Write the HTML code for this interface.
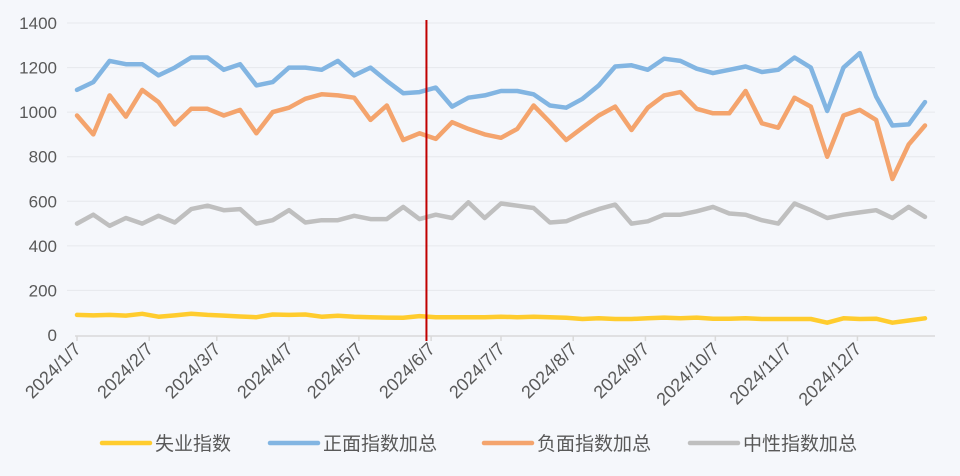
<!DOCTYPE html>
<html><head><meta charset="utf-8">
<style>
html,body{margin:0;padding:0;background:#f5f7fb;}
svg{display:block;font-family:"Liberation Sans","Noto Sans CJK SC",sans-serif;}
</style></head>
<body>
<svg id="chart" width="960" height="476" viewBox="0 0 960 476">
<rect x="0" y="0" width="960" height="476" fill="#f5f7fb"/>
<g id="grid"></g><g id="xaxis"></g><g id="lines"></g><g id="legend"></g>
</svg>
<script>
const unemployment=[90,88,90,87,95,82,88,95,90,87,83,80,92,90,92,82,86,82,80,78,77,85,80,80,80,80,82,80,82,80,77,72,75,72,72,75,78,75,78,73,73,75,72,72,72,72,55,75,72,73,55,65,75];
const positive=[1100,1135,1230,1215,1215,1165,1200,1245,1245,1190,1215,1120,1135,1200,1200,1190,1230,1165,1200,1140,1085,1090,1110,1025,1065,1075,1095,1095,1080,1030,1020,1060,1120,1205,1210,1190,1240,1230,1195,1175,1190,1205,1180,1190,1245,1200,1005,1200,1265,1070,940,945,1045];
const negative=[985,900,1075,980,1100,1045,945,1015,1015,985,1010,905,1000,1020,1060,1080,1075,1065,965,1030,875,905,880,955,925,900,885,925,1030,955,875,930,985,1025,920,1020,1075,1090,1015,995,995,1095,950,930,1065,1025,800,985,1010,965,700,855,940];
const neutral=[500,540,490,525,500,535,505,565,580,560,565,500,515,560,505,515,515,535,520,520,575,520,540,525,595,525,590,580,570,505,510,540,565,585,500,510,540,540,555,575,545,540,515,500,590,560,525,540,550,560,525,575,530];
const yTicks=[0,200,400,600,800,1000,1200,1400];
const monthLabels=["2024/1/7","2024/2/7","2024/3/7","2024/4/7","2024/5/7","2024/6/7","2024/7/7","2024/8/7","2024/9/7","2024/10/7","2024/11/7","2024/12/7"];
const monthDays=[0,31,60,91,121,152,182,213,244,274,305,335];
const markerDay=150;
const seriesNames=["失业指数","正面指数加总","负面指数加总","中性指数加总"];

const NS="http://www.w3.org/2000/svg";
const X0=77,X1=925,Y0=335,Y1=23;
const pxPerDay=(X1-X0)/((positive.length-1)*7);
function xDay(d){return X0+d*pxPerDay;}
function xIdx(i){return xDay(i*7);}
function y(v){return Y0-(v/1400)*(Y0-Y1);}
function mk(tag,attrs,parent){const e=document.createElementNS(NS,tag);for(const k in attrs)e.setAttribute(k,attrs[k]);parent.appendChild(e);return e;}

const grid=document.getElementById('grid');
yTicks.forEach(t=>{
  if(t>0){const l=mk('line',{x1:X0-10,x2:X1+10,y1:y(t),y2:y(t),stroke:'#e6e8ec','stroke-width':1},grid);
  
  }
  const tx=mk('text',{x:57,y:y(t)+6,'text-anchor':'end','font-size':17,fill:'#595959'},grid);
  tx.textContent=t;
  
  
});
const xa=document.getElementById('xaxis');
const ax=mk('line',{x1:X0-2,x2:X1+10,y1:Y0+1,y2:Y0+1,stroke:'#d9d9d9','stroke-width':1.5},xa);


monthLabels.forEach((lab,i)=>{
  const x=xDay(monthDays[i]);
  const tk=mk('line',{x1:x,x2:x,y1:Y0+1,y2:Y0+6,stroke:'#d9d9d9','stroke-width':1.5},xa);
  
  
  const t=mk('text',{x:x+5,y:Y0+15,'text-anchor':'end','font-size':18,fill:'#595959',transform:`rotate(-45 ${x+5} ${Y0+15})`},xa);
  t.textContent=lab;
  
  
});
const lines=document.getElementById('lines');
const series=[[neutral,'#bfbfbf','neutral-line'],[negative,'#f4a46d','negative-line'],[positive,'#82b5e2','positive-line'],[unemployment,'#ffcc2e','unemployment-line']];
series.forEach(([d,c,n])=>{
  const p=mk('polyline',{points:d.map((v,i)=>xIdx(i).toFixed(1)+','+y(v).toFixed(1)).join(' '),fill:'none',stroke:c,'stroke-width':4.5,'stroke-linejoin':'round','stroke-linecap':'round'},lines);
  
  
});
const mx=xDay(markerDay);
const ml=mk('line',{x1:mx,x2:mx,y1:20,y2:341,stroke:'#c00000','stroke-width':2},lines);


const lg=document.getElementById('legend');
const legX=[102,270,484,690];
const legC=['#ffcc2e','#82b5e2','#f4a46d','#bfbfbf'];
seriesNames.forEach((n,i)=>{
  const g=mk('g',{},lg);
  
  
  mk('line',{x1:legX[i],x2:legX[i]+48,y1:443,y2:443,stroke:legC[i],'stroke-width':4.5,'stroke-linecap':'round'},g);
  const t=mk('text',{x:legX[i]+53,y:450,'font-size':19,fill:'#595959'},g);
  t.textContent=n;
});
</script>
</body></html>
